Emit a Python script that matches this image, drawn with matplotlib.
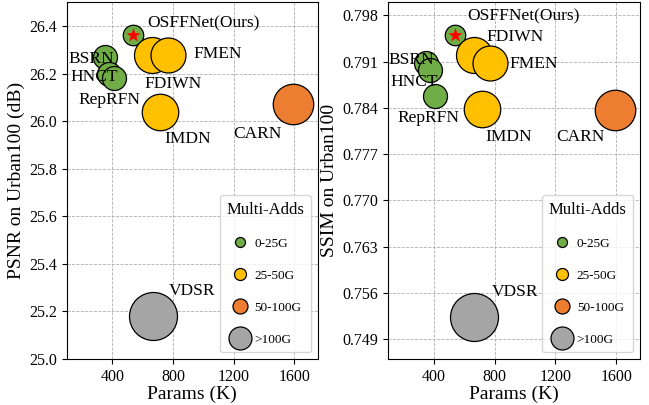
import matplotlib
matplotlib.use("Agg")
import matplotlib.pyplot as plt
from matplotlib.lines import Line2D

plt.rcParams['font.family'] = ['Liberation Serif', 'DejaVu Serif']
plt.rcParams['mathtext.fontset'] = 'stix'

# data
models = ["OSFFNet(Ours)", "BSRN", "HNCT", "RepRFN", "FDIWN", "FMEN", "IMDN", "CARN", "VDSR"]
params = [537, 352, 375, 408, 664, 769, 715, 1592, 666]
psnr = [26.36, 26.27, 26.20, 26.18, 26.28, 26.28, 26.04, 26.07, 25.18]
ssim = [0.7950, 0.7908, 0.7897, 0.7858, 0.7920, 0.7908, 0.7838, 0.7837, 0.7524]
group = [0, 0, 0, 0, 1, 1, 1, 2, 3]
diam_px = [20.5, 24, 24, 24, 36, 35, 36.5, 40.5, 48]

group_names = ["0-25G", "25-50G", "50-100G", ">100G"]
group_colors = ["#70AD47", "#FFC000", "#ED7D31", "#A5A5A5"]
legend_diam_px = [10, 12, 15, 23]

# label positions (data coords, left edge / vertical centre)
psnr_lab_x = [630, 110, 122, 173, 612, 934, 744, 1199, 773]
psnr_lab_y = [26.41, 26.263, 26.185, 26.087, 26.154, 26.284, 25.923, 25.944, 25.284]
ssim_lab_x = [620, 103, 114, 162, 746, 900, 741, 1203, 779]
ssim_lab_y = [0.7978, 0.7913, 0.7879, 0.7824, 0.7947, 0.7907, 0.7796, 0.7796, 0.7562]

psnr_ticks = [25.0, 25.2, 25.4, 25.6, 25.8, 26.0, 26.2, 26.4]
ssim_ticks = [0.749, 0.756, 0.763, 0.770, 0.777, 0.784, 0.791, 0.798]
x_ticks = [400, 800, 1200, 1600]

DPI = 100
px2pt = 72.0 / DPI

fig = plt.figure(figsize=(6.49, 4.05), dpi=DPI)
ax1 = fig.add_axes([0.1032, 0.1136, 0.3863, 0.881])
ax2 = fig.add_axes([0.598, 0.1136, 0.388, 0.881])


def draw(ax, yvals, lab_x, lab_y, ylim, yticks, ylabel, fmt):
    ax.grid(True, linestyle='--', color='#b0b0b0', linewidth=0.6, zorder=0)
    ax.set_axisbelow(True)
    for i in range(len(models)):
        s = (diam_px[i] * px2pt) ** 2
        ax.scatter(params[i], yvals[i], s=s, color=group_colors[group[i]],
                   edgecolor='black', linewidth=0.9, zorder=3)
        ax.text(lab_x[i], lab_y[i], models[i], fontsize=12.5, ha='left',
                va='center', zorder=5)
    # red star on our model
    ax.scatter(params[0], yvals[0], marker='*', s=(15 * px2pt) ** 2,
               color='red', zorder=4, linewidth=0)
    ax.set_xlim(100, 1755)
    ax.set_ylim(*ylim)
    ax.set_xticks(x_ticks)
    ax.set_yticks(yticks)
    ax.set_yticklabels([fmt.format(v) for v in yticks])
    ax.tick_params(labelsize=11.5)
    ax.set_xlabel("Params (K)", fontsize=14, labelpad=1)
    ax.set_ylabel(ylabel, fontsize=14, labelpad=3)

    handles = [Line2D([], [], marker='o', linestyle='', markersize=legend_diam_px[k] * px2pt,
                      markerfacecolor=group_colors[k], markeredgecolor='black',
                      markeredgewidth=0.9) for k in range(4)]
    leg = ax.legend(handles, group_names, title="Multi-Adds", loc='lower right',
                    fontsize=9.5, title_fontsize=12, labelspacing=1.5,
                    handletextpad=0.3, borderpad=0.5, handlelength=1.6,
                    framealpha=0.8, edgecolor='#cccccc', bbox_to_anchor=(1.0, 0.0))
    leg.set_zorder(6)


draw(ax1, psnr, psnr_lab_x, psnr_lab_y, (25.0, 26.5), psnr_ticks,
     "PSNR on Urban100 (dB)", "{:.1f}")
draw(ax2, ssim, ssim_lab_x, ssim_lab_y, (0.746, 0.800), ssim_ticks,
     "SSIM on Urban100", "{:.3f}")

fig.savefig("out.png", dpi=DPI)
